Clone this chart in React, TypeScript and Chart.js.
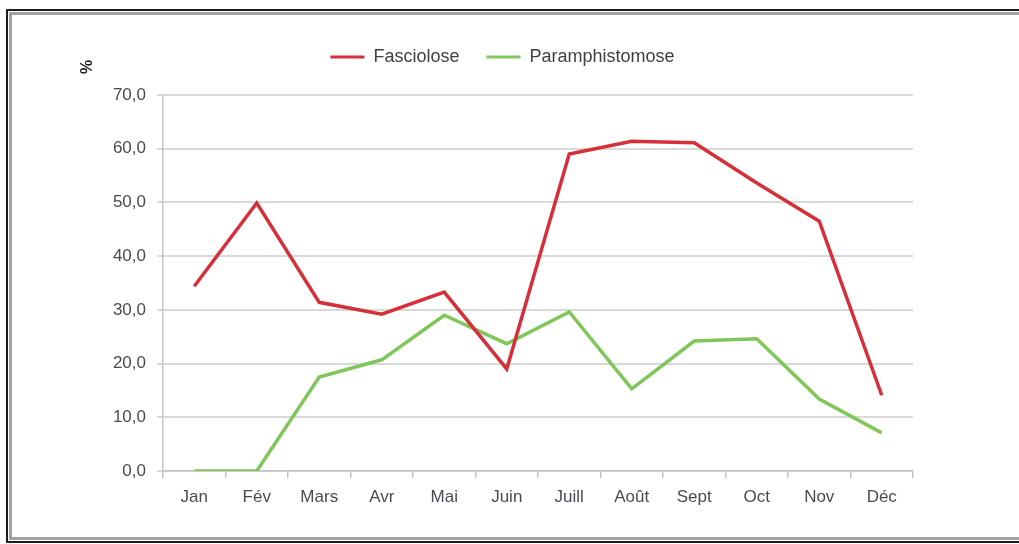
import React, { useEffect, useRef } from "react";
import { Chart, registerables } from "chart.js";

Chart.register(...registerables);

const months = ["Jan", "Fév", "Mars", "Avr", "Mai", "Juin", "Juill", "Août", "Sept", "Oct", "Nov", "Déc"];
const fasciolose = [34.4, 49.9, 31.4, 29.2, 33.3, 19.0, 59.0, 61.4, 61.1, 53.6, 46.5, 14.1];
const paramphistomose = [0.0, 0.0, 17.5, 20.7, 29.0, 23.7, 29.6, 15.3, 24.2, 24.6, 13.4, 7.1];
const seriesNames = ["Fasciolose", "Paramphistomose"];
const yUnit = "%";

const RED = "#d5303a";
const GREEN = "#80c75a";

export default function App() {
  const ref = useRef<HTMLCanvasElement | null>(null);

  useEffect(() => {
    if (!ref.current) return;
    const layoutFix = {
      id: "layoutFix",
      beforeInit(chart: any) {
        const lg = chart.legend;
        if (lg) {
          const orig = lg.fit.bind(lg);
          lg.fit = function () {
            orig();
            this.height += 19;
          };
        }
      },
      afterLayout(chart: any) {
        if (chart.legend) {
          chart.legend.left = 0;
          chart.legend.right = 1005;
        }
      },
      afterDraw(chart: any) {
        const ctx = chart.ctx;
        ctx.save();
        ctx.translate(88, 67);
        ctx.rotate(-Math.PI / 2);
        ctx.fillStyle = "#222";
        ctx.font = "bold 16px 'Liberation Sans', Arial, sans-serif";
        ctx.textAlign = "center";
        ctx.textBaseline = "middle";
        ctx.fillText(yUnit, 0, 0);
        ctx.restore();
      },
    };

    const chart = new Chart(ref.current, {
      type: "line",
      data: {
        labels: months,
        datasets: [
          {
            label: seriesNames[0],
            data: fasciolose,
            borderColor: RED,
            backgroundColor: RED,
            borderWidth: 3.5,
            pointRadius: 0,
            tension: 0,
          },
          {
            label: seriesNames[1],
            data: paramphistomose,
            borderColor: GREEN,
            backgroundColor: GREEN,
            borderWidth: 3.5,
            pointRadius: 0,
            tension: 0,
          },
        ],
      },
      options: {
        responsive: false,
        animation: false,
        layout: { padding: { top: 21, left: 0, right: 106, bottom: 0 } },
        plugins: {
          tooltip: { enabled: false },
          legend: {
            display: true,
            position: "top",
            labels: {
              boxWidth: 34,
              boxHeight: 3,
              padding: 27,
              color: "#3f3f48",
              font: { family: "'Liberation Sans', Arial, sans-serif", size: 18 },
              generateLabels(chart: any) {
                return chart.data.datasets.map((ds: any, i: number) => ({
                  text: ds.label,
                  fillStyle: ds.borderColor,
                  strokeStyle: ds.borderColor,
                  lineWidth: 0,
                  hidden: false,
                  datasetIndex: i,
                  fontColor: "#3f3f48",
                }));
              },
            },
          },
        },
        scales: {
          x: {
            offset: true,
            afterFit(scale: any) {
              scale.height = 73;
            },
            grid: {
              offset: true,
              drawOnChartArea: false,
              drawTicks: true,
              tickLength: 7,
              color: "#c4c4c4",
              lineWidth: 1.5,
            },
            border: { display: true, color: "#c4c4c4", width: 1.5 },
            ticks: {
              padding: 9,
              color: "#4a4a52",
              font: { family: "'Liberation Sans', Arial, sans-serif", size: 17 },
              maxRotation: 0,
              autoSkip: false,
            },
          },
          y: {
            min: 0,
            max: 70,
            afterFit(scale: any) {
              scale.width = 163;
            },
            grid: {
              color: "#d9d9d9",
              lineWidth: 2,
              drawTicks: true,
              tickLength: 6,
            },
            border: { display: true, color: "#c4c4c4", width: 1.5 },
            ticks: {
              stepSize: 10,
              padding: 11,
              color: "#4a4a52",
              font: { family: "'Liberation Sans', Arial, sans-serif", size: 17 },
              callback: (v: any) => Number(v).toFixed(1).replace(".", ","),
            },
          },
        },
      },
      plugins: [layoutFix],
    });
    return () => chart.destroy();
  }, []);

  return (
    <div style={{ position: "fixed", left: 0, top: 0, width: 1019, height: 544, background: "#fff", overflow: "hidden" }}>
      <canvas ref={ref} width={1019} height={544} style={{ position: "absolute", left: 0, top: 0 }} />
      <div
        style={{
          position: "absolute",
          left: 6,
          top: 9,
          width: 1040,
          height: 534,
          boxSizing: "border-box",
          border: "2px solid #1c1c1c",
          pointerEvents: "none",
        }}
      >
        <div
          style={{
            position: "absolute",
            left: 1,
            top: 1,
            right: 1,
            bottom: 1,
            border: "3px solid #a3a3a3",
          }}
        />
      </div>
    </div>
  );
}
